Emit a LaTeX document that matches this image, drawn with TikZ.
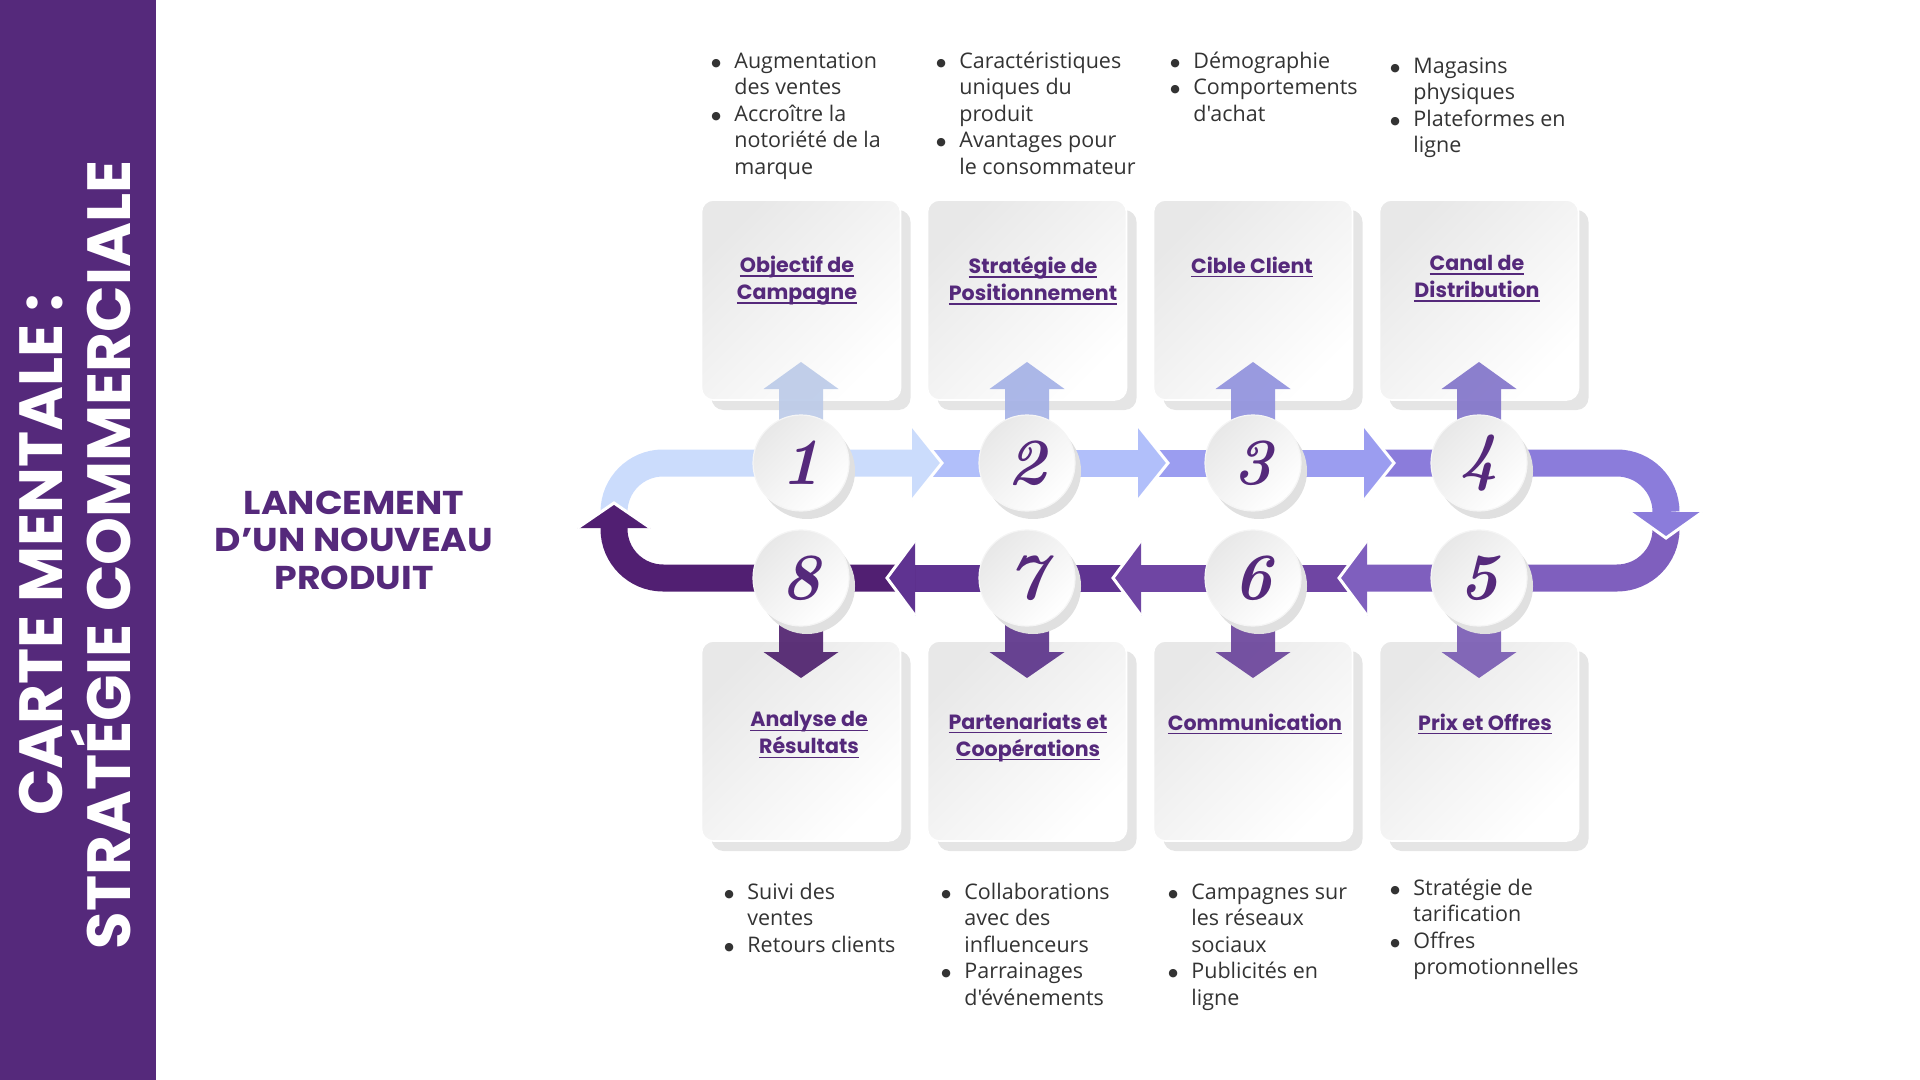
\documentclass[tikz,border=0pt]{standalone}
\usepackage{fontspec}
\newfontfamily\headfont{Poppins}
\newfontfamily\widefont{Poppins}[FakeStretch=1.1]
\newfontfamily\listfont{Open Sans}
\newfontfamily\dotfont{DejaVu Sans}
\usetikzlibrary{calc,shadows}

\definecolor{sidebar}{HTML}{55297B}
\definecolor{ink}{HTML}{55297B}
\definecolor{bandA}{HTML}{CBDCFC}
\definecolor{bandB}{HTML}{B1BFFA}
\definecolor{bandC}{HTML}{9B9DF0}
\definecolor{bandD}{HTML}{8B7CDB}
\definecolor{bandE}{HTML}{7F5FBE}
\definecolor{bandF}{HTML}{6F45A3}
\definecolor{bandG}{HTML}{5F3391}
\definecolor{bandH}{HTML}{511F72}

% underline sitting just under the baseline
\newcommand{\undl}[1]{\setbox0\hbox{#1}\rlap{\rule[-2.2pt]{\wd0}{0.7pt}}\box0}
% bullet and hanging indent for the note lists
\newcommand{\bul}{\strut\makebox[11.5pt][l]{\raisebox{1pt}{\dotfont\fontsize{5.5}{6}\selectfont ●}}}
\newcommand{\nob}{\hspace*{11.5pt}}

\begin{document}
\begin{tikzpicture}[x=0.5pt, y=-0.5pt,
    % step cards (light gradient with a flat shadow)
    card/.style={rectangle, rounded corners=6pt, minimum width=99.5pt, minimum height=100pt,
        inner sep=0pt, draw=white, line width=0.8pt, top color=black!9, bottom color=white,
        shading angle=45, drop shadow={shadow xshift=5pt, shadow yshift=-5pt, fill=black!10, opacity=1}},
    % numbered discs on the loop
    disc/.style={circle, minimum size=48pt, inner sep=0pt, draw=black!4, line width=0.6pt,
        top color=black!9, bottom color=white, shading angle=45, text=ink,
        drop shadow={shadow xshift=3pt, shadow yshift=-4pt, fill=black!12, opacity=1},
        font=\bfseries\itshape\fontsize{33}{33}\selectfont},
    % card titles
    cardtitle/.style={text=ink, align=center, inner sep=0pt, font=\headfont\bfseries\fontsize{10.3}{13.5}\selectfont},
    % bullet lists
    notes/.style={anchor=north west, align=left, inner sep=0pt, text=black!80,
        font=\listfont\fontsize{10.75}{13.3}\selectfont},
    % loop bands and their heads
    band/.style={line width=13.5pt},
    tip/.style={draw=white, line width=1.5pt, line join=miter}
]

% stem from a disc up to its card
\newcommand{\stemup}[2]{
    \fill[#2!92!black, opacity=.9] ($(#1)+(-22,0)$) -- ++(0,-74) -- ++(-15.5,0) -- ($(#1)+(0,-101)$)
        -- ($(#1)+(37.5,-74)$) -- ++(-15.5,0) -- ($(#1)+(22,0)$) -- cycle;
}
% stem from a disc down to its card
\newcommand{\stemdown}[2]{
    \fill[#2!94!black, opacity=.9] ($(#1)+(-22,0)$) -- ++(0,74) -- ++(-15.5,0) -- ($(#1)+(0,100)$)
        -- ($(#1)+(37.5,74)$) -- ++(-15.5,0) -- ($(#1)+(22,0)$) -- cycle;
}

\useasboundingbox (0,0) rectangle (1920,1080);

% ==========================
% Side banner and main title
% ==========================
\fill[sidebar] (0,0) rectangle (156,1080);
\node[rotate=90, text=white, align=center, font=\headfont\bfseries\fontsize{30.5}{34}\selectfont]
    (banner) at (75,555) {CARTE MENTALE :\\STRATÉGIE COMMERCIALE};

\node[text=ink, align=center, font=\widefont\bfseries\fontsize{16.5}{18.75}\selectfont]
    (launch) at (354,540) {LANCEMENT\\D’UN NOUVEAU\\PRODUIT};

% step positions
\coordinate (s1) at (801,463);
\coordinate (s2) at (1027,463);
\coordinate (s3) at (1253,463);
\coordinate (s4) at (1479,463);
\coordinate (s5) at (1479,578);
\coordinate (s6) at (1253,578);
\coordinate (s7) at (1027,578);
\coordinate (s8) at (801,578);

% ==========================
% Cards
% ==========================
\node[card] (b1) at (801,300) {};
\node[card] (b2) at (1027,300) {};
\node[card] (b3) at (1253,300) {};
\node[card] (b4) at (1479,300) {};
\node[card] (b5) at (1479,741) {};
\node[card] (b6) at (1253,741) {};
\node[card] (b7) at (1027,741) {};
\node[card] (b8) at (801,741) {};

% stems towards the cards
\stemup{s1}{bandA}
\stemup{s2}{bandB}
\stemup{s3}{bandC}
\stemup{s4}{bandD}
\stemdown{s5}{bandE}
\stemdown{s6}{bandF}
\stemdown{s7}{bandG}
\stemdown{s8}{bandH}

% ==========================
% Loop bands
% ==========================
\draw[band, bandA, rounded corners=24.5pt] (614,528) -- (614,463) -- (912,463);
\draw[band, bandB] (912,463) -- (1138,463);
\draw[band, bandC] (1138,463) -- (1364,463);
\draw[band, bandD, rounded corners=24.5pt] (1364,463) -- (1666,463) -- (1666,512);
\draw[band, bandE, rounded corners=24.5pt] (1666,512) -- (1666,578) -- (1367,578);
\draw[band, bandF] (1367,578) -- (1141,578);
\draw[band, bandG] (1141,578) -- (915,578);
\draw[band, bandH, rounded corners=24.5pt] (915,578) -- (614,578) -- (614,528);

% heads (white edge cuts the notch in the next band)
\filldraw[tip, fill=bandA] (912,425.5) -- (942,463) -- (912,500.5);
\filldraw[tip, fill=bandB] (1138,425.5) -- (1168,463) -- (1138,500.5);
\filldraw[tip, fill=bandC] (1364,425.5) -- (1394,463) -- (1364,500.5);
\filldraw[tip, fill=bandD] (1629.5,512) -- (1666,538) -- (1702.5,512);
\filldraw[tip, fill=bandE] (1367,540.5) -- (1339,578) -- (1367,615.5);
\filldraw[tip, fill=bandF] (1141,540.5) -- (1113,578) -- (1141,615.5);
\filldraw[tip, fill=bandG] (915,540.5) -- (887,578) -- (915,615.5);
\filldraw[tip, fill=bandH] (577.5,528) -- (614,503) -- (650.5,528);

% ==========================
% Numbered discs
% ==========================
\node[disc] (c1) at (s1) {1};
\node[disc] (c2) at (s2) {2};
\node[disc] (c3) at (s3) {3};
\node[disc] (c4) at (s4) {4};
\node[disc] (c5) at (s5) {5};
\node[disc] (c6) at (s6) {6};
\node[disc] (c7) at (s7) {7};
\node[disc] (c8) at (s8) {8};

% ==========================
% Card titles
% ==========================
\node[cardtitle] (t1) at (797,280.5) {\undl{Objectif de}\\\undl{Campagne}};
\node[cardtitle] (t2) at (1033,280.5) {\undl{Stratégie de}\\\undl{Positionnement}};
\node[cardtitle] (t3) at (1252,267) {\undl{Cible Client}};
\node[cardtitle] (t4) at (1477,278.5) {\undl{Canal de}\\\undl{Distribution}};
\node[cardtitle] (t5) at (1485,724) {\undl{Prix et Offres}};
\node[cardtitle] (t6) at (1255,724) {\undl{Communication}};
\node[cardtitle] (t7) at (1028,737) {\undl{Partenariats et}\\\undl{Coopérations}};
\node[cardtitle] (t8) at (809,735) {\undl{Analyse de}\\\undl{Résultats}};

% ==========================
% Notes
% ==========================
\node[notes] (n1) at (711,49) {\bul Augmentation\\\nob des ventes\\\bul Accroître la\\\nob notoriété de la\\\nob marque};
\node[notes] (n2) at (936,49) {\bul Caractéristiques\\\nob uniques du\\\nob produit\\\bul Avantages pour\\\nob le consommateur};
\node[notes] (n3) at (1170,49) {\bul Démographie\\\bul Comportements\\\nob d'achat};
\node[notes] (n4) at (1390,54) {\bul Magasins\\\nob physiques\\\bul Plateformes en\\\nob ligne};
\node[notes] (n5) at (1390,876) {\bul Stratégie de\\\nob tarification\\\bul Offres\\\nob promotionnelles};
\node[notes] (n6) at (1168,880) {\bul Campagnes sur\\\nob les réseaux\\\nob sociaux\\\bul Publicités en\\\nob ligne};
\node[notes] (n7) at (941,880) {\bul Collaborations\\\nob avec des\\\nob influenceurs\\\bul Parrainages\\\nob d'événements};
\node[notes] (n8) at (724,880) {\bul Suivi des\\\nob ventes\\\bul Retours clients};

\end{tikzpicture}
\end{document}
